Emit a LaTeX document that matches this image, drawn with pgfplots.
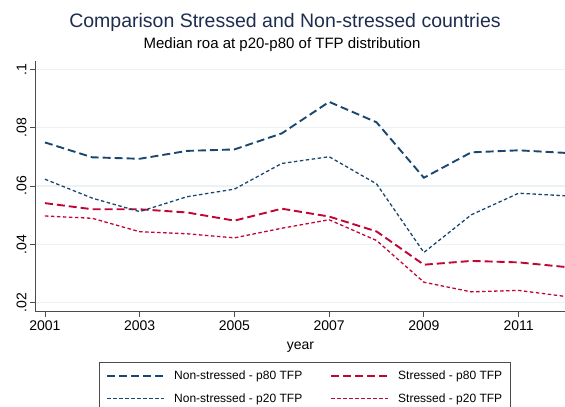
\documentclass[border=0pt]{standalone}
\usepackage{fontspec}
\setmainfont{Liberation Sans}
\usepackage{pgfplots}
\pgfplotsset{compat=1.18}

\definecolor{nsblue}{HTML}{1A476F}
\definecolor{sred}{HTML}{C10534}
\definecolor{gridc}{HTML}{EAF2F3}
\definecolor{titlec}{HTML}{1E2D4F}

\begin{document}
\begin{tikzpicture}[x=1pt,y=1pt]
\path[use as bounding box] (0,0) rectangle (565,-407);

\node[font=\fontsize{19.5}{22}\selectfont, text=titlec] at (285,-22) {Comparison Stressed and Non-stressed countries};
\node[font=\fontsize{15}{18}\selectfont] at (282,-45) {Median roa at p20-p80 of TFP distribution};

\begin{axis}[
    at={(35pt,-311.7pt)}, anchor=south west,
    scale only axis,
    width=531pt, height=250.7pt,
    xmin=2000.79, xmax=2012,
    ymin=0.0169, ymax=0.1028,
    axis x line*=bottom, axis y line*=left,
    axis line style={-, draw=black!70, line width=0.8pt},
    tick align=outside,
    major tick length=5pt,
    tick style={draw=black!70, line width=0.8pt},
    xtick={2001,2003,2005,2007,2009,2011},
    ytick={0.02,0.04,0.06,0.08,0.1},
    yticklabels={.02,.04,.06,.08,.1},
    ymajorgrids,
    major grid style={draw=gridc, line width=1.2pt},
    /pgf/number format/assume math mode=true,
    /pgf/number format/1000 sep={},
    ticklabel style={font=\fontsize{14}{16}\selectfont},
    yticklabel style={rotate=90, anchor=south},
    xlabel={year},
    xlabel style={font=\fontsize{14}{16}\selectfont, yshift=-5pt},
    clip=false,
    legend columns=2,
    legend style={
        at={(0.509,-0.2)}, anchor=north,
        draw=black!70, line width=0.8pt,
        font=\fontsize{12}{14}\selectfont,
        inner xsep=6.5pt, inner ysep=7pt,
        row sep=8pt,
        /tikz/every odd column/.append style={column sep=7pt},
        /tikz/every even column/.append style={column sep=26pt},
    },
    legend cell align=left,
    legend image code/.code={\draw[#1] (0pt,0pt) -- (57pt,0pt);},
]
\addlegendimage{draw=nsblue, line width=1.9pt, dash pattern=on 8pt off 4pt}
\addlegendentry{Non-stressed - p80 TFP}
\addlegendimage{draw=sred, line width=1.9pt, dash pattern=on 8pt off 4pt}
\addlegendentry{Stressed - p80 TFP}
\addlegendimage{draw=nsblue, line width=1.3pt, dash pattern=on 3.5pt off 2.5pt}
\addlegendentry{Non-stressed - p20 TFP}
\addlegendimage{draw=sred, line width=1.3pt, dash pattern=on 3.5pt off 2.5pt}
\addlegendentry{Stressed - p20 TFP}

\addplot[forget plot, draw=nsblue, line width=1.9pt, dash pattern=on 8pt off 4pt] coordinates {
(2001,0.0749) (2002,0.0698) (2003,0.0693) (2004,0.0720) (2005,0.0725) (2006,0.0780)
(2007,0.0888) (2008,0.0818) (2009,0.0628) (2010,0.0715) (2011,0.0722) (2012,0.0713)};
\addplot[forget plot, draw=sred, line width=1.9pt, dash pattern=on 8pt off 4pt] coordinates {
(2001,0.0541) (2002,0.0520) (2003,0.0520) (2004,0.0509) (2005,0.0481) (2006,0.0522)
(2007,0.0495) (2008,0.0444) (2009,0.0330) (2010,0.0343) (2011,0.0338) (2012,0.0322)};
\addplot[forget plot, draw=nsblue, line width=1.3pt, dash pattern=on 3.5pt off 2.5pt] coordinates {
(2001,0.0623) (2002,0.0558) (2003,0.0512) (2004,0.0563) (2005,0.0589) (2006,0.0677)
(2007,0.0700) (2008,0.0607) (2009,0.0372) (2010,0.0501) (2011,0.0575) (2012,0.0566)};
\addplot[forget plot, draw=sred, line width=1.3pt, dash pattern=on 3.5pt off 2.5pt] coordinates {
(2001,0.0497) (2002,0.0489) (2003,0.0443) (2004,0.0436) (2005,0.0422) (2006,0.0455)
(2007,0.0484) (2008,0.0413) (2009,0.0270) (2010,0.0237) (2011,0.0242) (2012,0.0221)};
\end{axis}
\end{tikzpicture}
\end{document}
